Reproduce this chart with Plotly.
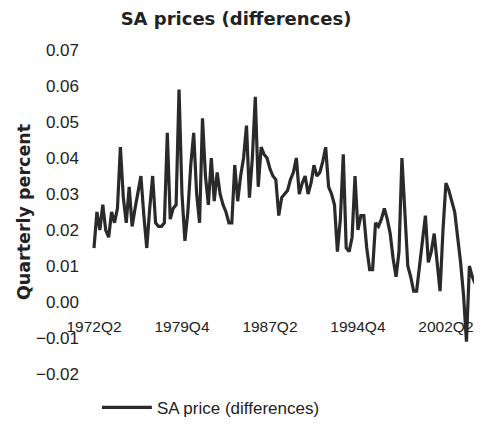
import plotly.graph_objects as go

start_year = 1972
start_quarter = 2
sa_price_diff = [
    0.015, 0.025, 0.020, 0.027, 0.020, 0.018, 0.025, 0.022, 0.026, 0.043,
    0.029, 0.022, 0.032, 0.021, 0.026, 0.030, 0.035, 0.024, 0.015, 0.026,
    0.035, 0.022, 0.021, 0.021, 0.022, 0.047, 0.023, 0.026, 0.027, 0.059,
    0.030, 0.017, 0.025, 0.038, 0.047, 0.030, 0.022, 0.051, 0.035, 0.027,
    0.040, 0.028, 0.036, 0.030, 0.027, 0.025, 0.022, 0.022, 0.038, 0.028,
    0.035, 0.040, 0.049, 0.029, 0.040, 0.057, 0.032, 0.043, 0.041, 0.040,
    0.037, 0.035, 0.034, 0.024, 0.029, 0.030, 0.031, 0.034, 0.036, 0.040,
    0.030, 0.033, 0.035, 0.030, 0.033, 0.038, 0.035, 0.036, 0.039, 0.043,
    0.032, 0.030, 0.027, 0.014, 0.023, 0.041, 0.015, 0.014, 0.018, 0.035,
    0.020, 0.024, 0.024, 0.015, 0.009, 0.009, 0.022, 0.021, 0.023, 0.026,
    0.023, 0.019, 0.012, 0.007, 0.014, 0.040, 0.024, 0.010, 0.007, 0.003,
    0.003, 0.010, 0.016, 0.024, 0.011, 0.014, 0.019, 0.010, 0.003, 0.020,
    0.033, 0.031, 0.028, 0.025, 0.018, 0.011, 0.002, -0.011, 0.010, 0.007,
    0.005, 0.008, 0.011,
]
quarters = []
y, q = start_year, start_quarter
for _ in sa_price_diff:
    quarters.append(f"{y}Q{q}")
    q += 1
    if q > 4:
        q, y = 1, y + 1

x_tick_labels = ["1972Q2", "1979Q4", "1987Q2", "1994Q4", "2002Q2"]
y_ticks = [-0.02, -0.01, 0.00, 0.01, 0.02, 0.03, 0.04, 0.05, 0.06, 0.07]

W, H = 474, 415

fig = go.Figure()
fig.add_trace(go.Scatter(
    x=quarters, y=sa_price_diff, mode="lines",
    name="SA price (differences)",
    line=dict(color="#2a2a2a", width=3.2),
))

fig.update_layout(
    width=W, height=H,
    margin=dict(l=72, r=0, t=24, b=31, autoexpand=False),
    paper_bgcolor="white", plot_bgcolor="white",
    font=dict(family="Liberation Sans, Arial, sans-serif", size=16, color="#222"),
    title=dict(text="<b>SA prices (differences)</b>",
               font=dict(family="DejaVu Sans", size=18, color="#222"),
               xref="container", x=228/W, xanchor="center",
               yref="container", y=1-11/H, yanchor="middle"),
    showlegend=True,
    legend=dict(orientation="h", x=0.042, xanchor="left",
                y=-0.044, yanchor="middle", itemwidth=50,
                font=dict(size=17), bgcolor="rgba(0,0,0,0)"),
    xaxis=dict(type="category", range=[-4.77, 132.3],
               tickmode="array", tickvals=x_tick_labels, ticktext=x_tick_labels,
               anchor="free", position=0.25, automargin=False,
               showline=False, showgrid=False, zeroline=False,
               ticks="outside", ticklen=10, tickcolor="rgba(0,0,0,0)",
               tickfont=dict(size=15.5), tickangle=0),
    yaxis=dict(range=[-0.025, 0.075], tickvals=y_ticks, tickformat=".2f",
               automargin=False, tickfont=dict(size=17),
               showline=False, showgrid=False, zeroline=False, ticks="",
               title=dict(text="<b>Quarterly percent</b>",
                          font=dict(family="DejaVu Sans", size=17.5, color="#222"),
                          standoff=0)),
)

fig.write_html("out.html")
